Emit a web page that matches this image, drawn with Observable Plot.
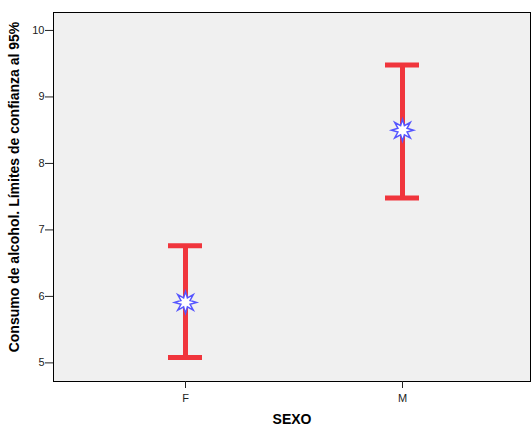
<!DOCTYPE html>
<html>
<head>
<meta charset="utf-8">
<script src="https://cdn.jsdelivr.net/npm/d3@7"></script>
<script src="https://cdn.jsdelivr.net/npm/@observablehq/plot@0.6"></script>
<style>
  html, body { margin: 0; padding: 0; background: #fff; }
  #chart svg { font-family: "Liberation Sans", Arial, sans-serif; }
  #chart svg [aria-label="y-axis label"] text,
  #chart svg [aria-label="x-axis label"] text { font-weight: bold; font-size: 14px; fill: #000; }
</style>
</head>
<body>
<div id="chart"></div>
<script>
const sexo = ["F", "M"];
const media = [5.91, 8.50];
const inferior = [5.08, 7.48];
const superior = [6.76, 9.48];
const yTicks = [5, 6, 7, 8, 9, 10];

const data = sexo.map((s, i) => ({sexo: s, media: media[i], lo: inferior[i], hi: superior[i]}));

// 8-pointed burst marker
const burst = {
  draw(ctx, size) {
    const R = Math.sqrt(size / Math.PI);
    const r = R * 0.45;
    const n = 8;
    for (let k = 0; k < 2 * n; k++) {
      const a = -Math.PI / 2 + k * Math.PI / n;
      const rr = k % 2 === 0 ? R : r;
      const px = rr * Math.cos(a), py = rr * Math.sin(a);
      if (k === 0) ctx.moveTo(px, py); else ctx.lineTo(px, py);
    }
    ctx.closePath();
  }
};

const red = "#f0353c";

const chart = Plot.plot({
  width: 531,
  height: 428,
  marginLeft: 53,
  marginRight: 1,
  marginTop: 12,
  marginBottom: 47,
  style: {fontSize: "11px", fontFamily: "Liberation Sans, Arial, sans-serif", color: "#222"},
  x: {type: "band", domain: sexo, paddingInner: 0.843, paddingOuter: 0.5205, align: 0.51, label: "SEXO"},
  y: {domain: [4.72, 10.27], label: "Consumo de alcohol. Límites de confianza al 95%"},
  marks: [
    Plot.frame({fill: "#f0f0f0", stroke: "#000", strokeWidth: 1}),
    Plot.axisY({ticks: yTicks, tickFormat: d3.format("d"), tickSize: 8, tickPadding: 1, label: "Consumo de alcohol. Límites de confianza al 95%", labelAnchor: "center", labelArrow: "none", labelOffset: 44}),
    Plot.axisX({tickSize: 7, tickPadding: 6, label: "SEXO", labelAnchor: "center", labelArrow: "none", labelOffset: 42}),
    Plot.ruleX(data, {x: "sexo", y1: "lo", y2: "hi", stroke: red, strokeWidth: 5}),
    Plot.tickY(data, {x: "sexo", y: "lo", stroke: red, strokeWidth: 5}),
    Plot.tickY(data, {x: "sexo", y: "hi", stroke: red, strokeWidth: 5}),
    Plot.dot(data, {x: "sexo", y: "media", symbol: burst, r: 11, fill: "#fff", stroke: "#5555ff", strokeWidth: 1.5})
  ]
});
// nudge the y-axis label upward a little to match the reference
d3.select(chart).selectAll('[aria-label="y-axis label"] text').each(function() {
  const t = this.getAttribute("transform") || "";
  this.setAttribute("transform", "translate(0,-10) " + t);
});
document.getElementById("chart").appendChild(chart);
</script>
</body>
</html>
